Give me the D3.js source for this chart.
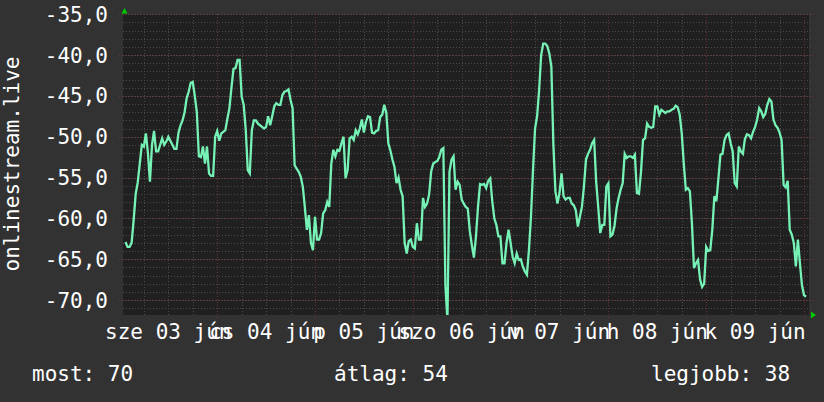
<!DOCTYPE html>
<html><head><meta charset="utf-8">
<script src="https://cdn.jsdelivr.net/npm/d3@7"></script>
<style>
html,body{margin:0;padding:0;background:#323232;}
svg{display:block;}
text{font-family:"DejaVu Sans Mono",monospace;}
</style></head><body>
<svg id="chart" width="824" height="402"></svg>
<script>
// ---- data ----
const firstSampleUTC = Date.UTC(2020, 5, 3, 1, 30); // sze 03 jún 01:30
const stepMinutes = 30;
const values = [
-62.9,-63.5,-63.5,-63.0,-60.2,-57.0,-55.6,-53.3,-51.0,-51.2,-49.6,-52.0,-55.5,-51.0,-49.3,-51.8,-51.8,-51.0,-50.2,-51.0,
-50.6,-50.0,-50.5,-51.0,-51.5,-51.5,-49.5,-48.6,-48.0,-47.0,-45.3,-44.5,-43.4,-43.3,-45.0,-47.0,-52.4,-52.5,-51.2,-53.3,
-51.2,-54.5,-54.8,-54.8,-50.0,-49.3,-50.5,-49.6,-49.4,-49.2,-47.8,-46.5,-44.0,-41.7,
-41.6,-40.6,-40.6,-45.1,-46.1,-49.1,-54.1,-54.5,-49.2,-48.0,-48.0,-48.4,-48.6,-48.8,-49.0,-48.8,-47.5,-48.6,-47.5,-46.3,
-45.9,-46.1,-46.1,-44.9,-44.5,-44.4,-44.2,-45.5,-46.5,-53.5,-53.9,-54.3,-54.9,-56.1,-58.6,-61.4,-59.6,-63.0,-63.9,-59.8,
-62.6,-62.6,-61.8,-59.4,-59.0,-58.0,-58.6,-53.3,-51.6,-52.4,-51.6,-51.7,-50.8,-50.0,-55.1,-54.1,-50.2,
-50.0,-50.4,-49.2,-49.7,-49.0,-47.9,-49.5,-48.2,-47.5,-47.6,-49.5,-49.6,-49.3,-49.2,-47.6,-47.3,-46.1,-47.1,-50.8,-51.7,
-52.8,-53.7,-55.7,-55.0,-56.5,-57.3,-63.0,-64.3,-62.8,-62.6,-63.5,-63.7,-60.6,-62.6,-62.6,-57.5,-58.6,-58.2,-57.1,-54.3,
-53.3,-53.1,-53.0,-52.5,-51.6,-51.4,-68.2,-72.5,-54.3,-52.8,-52.4,-56.5,-55.5,-55.9,-57.7,-58.2,-58.6,
-58.8,-61.6,-63.3,-64.8,-62.2,-58.6,-55.8,-55.9,-55.8,-56.3,-55.4,-55.1,-57.9,-60.0,-60.8,-62.2,-62.2,-65.5,-65.5,-63.0,
-61.4,-63.0,-64.7,-65.5,-64.3,-65.1,-65.0,-65.9,-66.5,-66.9,-63.9,-59.8,-54.1,-49.0,-47.5,-44.3,-40.0,-38.6,-38.6,-38.9,
-39.8,-41.4,-51.0,-56.7,-58.2,-56.9,-54.5,-57.3,-57.7,-57.5,-57.5,-58.2,-58.4,-59.0,-61.0,-59.8,-58.6,-56.1,
-52.8,-52.1,-51.6,-50.8,-50.4,-55.5,-58.6,-61.8,-60.8,-60.8,-56.1,-55.7,-62.2,-62.0,-60.9,-58.8,-57.5,-56.5,-55.7,-52.1,
-52.6,-52.4,-52.4,-52.6,-52.2,-56.9,-57.0,-54.3,-50.4,-50.2,-48.4,-48.8,-48.9,-48.8,-46.3,-46.3,-47.3,-46.7,-46.9,-47.1,
-46.9,-46.9,-46.7,-46.6,-46.2,-46.4,-47.3,-49.6,-53.3,-56.5,-56.3,-56.7,-60.6,-66.1,-65.5,-65.1,
-67.5,-68.4,-68.0,-63.5,-64.0,-63.9,-61.4,-57.3,-57.9,-55.1,-52.2,-52.1,-50.4,-49.8,-49.6,-50.8,-51.8,-55.7,-56.1,-51.2,
-51.8,-52.1,-50.3,-49.7,-49.8,-50.2,-49.4,-48.8,-47.9,-46.5,-46.9,-47.6,-47.2,-46.1,-45.4,-45.7,-47.9,-48.6,-48.9,-49.5,
-50.4,-55.9,-56.2,-55.4,-61.4,-62.0,-63.0,-65.9,-62.6,-65.5,-68.2,-69.4,-69.6
];
const dayStartsUTC = [3,4,5,6,7,8,9,10].map(d => Date.UTC(2020, 5, d));
const dayLabels = ["sze 03 jún","cs 04 jún","p 05 jún","szo 06 jún","v 07 jún","h 08 jún","k 09 jún"];
const yTicks = [-70,-65,-60,-55,-50,-45,-40,-35];
const yTickLabels = ["-70,0","-65,0","-60,0","-55,0","-50,0","-45,0","-40,0","-35,0"];
const yTitle = "onlinestream.live";
const legendItems = ["most: 70","átlag: 54","legjobb: 38"];

// ---- drawing ----
const svg = d3.select("#chart");
const W = 824, H = 402;
const plot = {left:123, right:809, top:14, bottom:315};

const x = d3.scaleUtc()
  .domain([dayStartsUTC[0], dayStartsUTC[dayStartsUTC.length-1]])
  .range([119.4, 804]);
const y = d3.scaleLinear().domain([-70, -35]).range([300, 14.2]);

svg.append("rect").attr("width", W).attr("height", H).attr("fill", "#323232");
svg.append("rect")
  .attr("x", plot.left).attr("y", plot.top)
  .attr("width", plot.right - plot.left).attr("height", plot.bottom - plot.top)
  .attr("fill", "#202020");

const grid = svg.append("g").attr("shape-rendering", "crispEdges");
// minor vertical: every 6 hours
const minorX = d3.utcHour.every(6).range(new Date(dayStartsUTC[0]), new Date(dayStartsUTC[7] + 3600e3))
  .filter(d => x(d) >= plot.left && x(d) <= plot.right);
grid.selectAll(".vmin").data(minorX).join("line")
  .attr("x1", d => Math.round(x(d)) + 0.5).attr("x2", d => Math.round(x(d)) + 0.5)
  .attr("y1", plot.top).attr("y2", plot.bottom)
  .attr("stroke", "#4a4a4a").attr("stroke-dasharray", "1,2");
// minor horizontal: every 1 unit
const minorY = d3.range(-71, -34).filter(v => y(v) >= plot.top - 1 && y(v) <= plot.bottom);
grid.selectAll(".hmin").data(minorY).join("line")
  .attr("x1", plot.left).attr("x2", plot.right + 4)
  .attr("y1", d => Math.round(y(d)) + 0.5).attr("y2", d => Math.round(y(d)) + 0.5)
  .attr("stroke", "#4a4a4a").attr("stroke-dasharray", "1,2");
// major vertical: each day
const majorX = dayStartsUTC.filter(d => x(d) >= plot.left && x(d) <= plot.right);
grid.selectAll(".vmaj").data(majorX).join("line")
  .attr("x1", d => Math.round(x(d)) + 0.5).attr("x2", d => Math.round(x(d)) + 0.5)
  .attr("y1", plot.top).attr("y2", plot.bottom + 3)
  .attr("stroke", "#6b3434").attr("stroke-dasharray", "1,2");
// major horizontal
grid.selectAll(".hmaj").data(yTicks).join("line")
  .attr("x1", plot.left - 4).attr("x2", plot.right + 4)
  .attr("y1", d => Math.round(y(d)) + 0.5).attr("y2", d => Math.round(y(d)) + 0.5)
  .attr("stroke", "#6b3434").attr("stroke-dasharray", "1,2");

// data line
svg.append("clipPath").attr("id", "clip").append("rect")
  .attr("x", plot.left).attr("y", plot.top)
  .attr("width", plot.right - plot.left).attr("height", plot.bottom - plot.top);
const series = values.map((v, i) => ({t: new Date(firstSampleUTC + i * stepMinutes * 60e3), v}));
const line = d3.line().x(d => x(d.t)).y(d => y(d.v));
svg.append("path").datum(series)
  .attr("clip-path", "url(#clip)")
  .attr("d", line)
  .attr("fill", "none").attr("stroke", "#76f2b6").attr("stroke-width", 2.3)
  .attr("stroke-linejoin", "miter");

// arrows
svg.append("path").attr("d", `M${plot.left - 1.5},13.5 L${plot.left + 1.5},8 L${plot.left + 4.5},13.5 Z`).attr("fill", "#00cc00");
svg.append("path").attr("d", `M${plot.right + 2},${plot.bottom - 3.5} L${plot.right + 7},${plot.bottom} L${plot.right + 2},${plot.bottom + 3.5} Z`).attr("fill", "#00cc00");

// y tick labels
svg.selectAll(".ylab").data(yTicks).join("text")
  .attr("x", 108).attr("y", d => y(d) + 7.5)
  .attr("text-anchor", "end").attr("font-size", 21).attr("fill", "#ffffff")
  .text((d, i) => yTickLabels[i]);

// x labels centered at noon
svg.selectAll(".xlab").data(dayLabels).join("text")
  .attr("x", (d, i) => x(new Date(dayStartsUTC[i] + 12 * 3600e3)))
  .attr("y", 339)
  .attr("text-anchor", "middle").attr("font-size", 21).attr("fill", "#ffffff")
  .text(d => d);

// y title
svg.append("text")
  .attr("transform", "translate(18.5,164) rotate(-90)")
  .attr("text-anchor", "middle").attr("font-size", 21).attr("fill", "#ffffff")
  .text(yTitle);

// legend
const legendX = [32, 334, 651];
svg.selectAll(".leg").data(legendItems).join("text")
  .attr("x", (d, i) => legendX[i]).attr("y", 381)
  .attr("font-size", 21).attr("fill", "#ffffff")
  .text(d => d);
</script>
</body></html>
